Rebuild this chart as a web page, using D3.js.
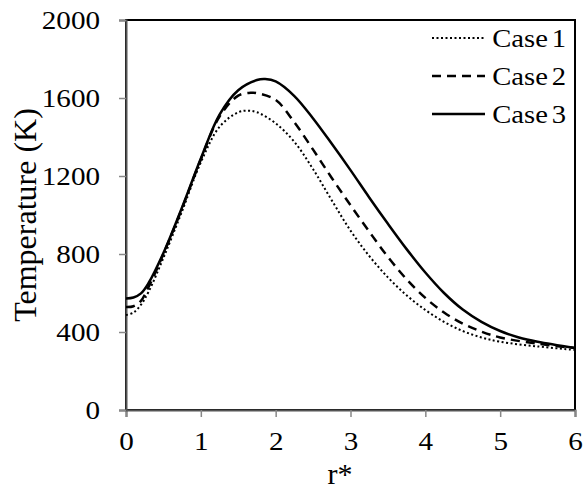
<!DOCTYPE html>
<html>
<head>
<meta charset="utf-8">
<script src="https://cdn.jsdelivr.net/npm/d3@7"></script>
<style>
  body { margin: 0; background: #fff; }
  text { font-family: "Liberation Serif", "Times New Roman", serif; fill: #000; }
</style>
</head>
<body>
<div id="chart"></div>
<script>
// radial position r* and temperature (K) for the three cases
const rCase1 = [0, 0.1, 0.2, 0.3, 0.5, 0.75, 1, 1.25, 1.5, 1.63, 1.75, 2, 2.25, 2.5, 2.75, 3, 3.25, 3.5, 3.75, 4, 4.25, 4.5, 4.75, 5, 5.5, 6];
const tCase1 = [487, 500, 540, 605, 780, 1020, 1270, 1452, 1527, 1535, 1527, 1470, 1375, 1235, 1075, 920, 790, 680, 588, 513, 452, 405, 372, 350, 326, 308];

const rCase2 = [0, 0.1, 0.2, 0.3, 0.5, 0.75, 1, 1.25, 1.5, 1.68, 1.75, 2, 2.25, 2.5, 2.75, 3, 3.25, 3.5, 3.75, 4, 4.25, 4.5, 4.75, 5, 5.5, 6];
const tCase2 = [528, 532, 560, 630, 800, 1035, 1285, 1505, 1612, 1627, 1625, 1590, 1475, 1335, 1190, 1050, 915, 785, 670, 575, 500, 443, 402, 372, 340, 318];

const rCase3 = [0, 0.1, 0.2, 0.3, 0.5, 0.75, 1, 1.25, 1.5, 1.75, 1.86, 2, 2.25, 2.5, 2.75, 3, 3.25, 3.5, 3.75, 4, 4.25, 4.5, 4.75, 5, 5.25, 5.5, 6];
const tCase3 = [572, 577, 598, 650, 805, 1040, 1290, 1515, 1640, 1692, 1697, 1685, 1610, 1495, 1365, 1230, 1090, 955, 825, 705, 600, 515, 452, 405, 372, 350, 318];

const xTicks = [0, 1, 2, 3, 4, 5, 6];
const yTicks = [0, 400, 800, 1200, 1600, 2000];
const caseNames = ["Case 1", "Case 2", "Case 3"];

const width = 588, height = 489;
const margin = {left: 126, right: 13, top: 20, bottom: 79};

const svg = d3.select("#chart").append("svg")
    .attr("width", width)
    .attr("height", height);

const x = d3.scaleLinear().domain([0, 6]).range([margin.left, width - margin.right]);
const y = d3.scaleLinear().domain([0, 2000]).range([height - margin.bottom, margin.top]);

// widen serif text a little, the original glyphs are broader
function widen(sel, k) {
    sel.each(function() {
        const w = this.getComputedTextLength();
        d3.select(this)
            .attr("textLength", w * k)
            .attr("lengthAdjust", "spacingAndGlyphs");
    });
}

// plot frame
svg.append("rect")
    .attr("x", x(0)).attr("y", y(2000))
    .attr("width", x(6) - x(0)).attr("height", y(0) - y(2000))
    .attr("fill", "none").attr("stroke", "#000").attr("stroke-width", 2);

// axes
const xAxis = svg.append("g")
    .attr("transform", `translate(0,${y(0)})`)
    .call(d3.axisBottom(x).tickValues(xTicks).tickSize(7).tickPadding(15).tickFormat(d3.format("d")));
const yAxis = svg.append("g")
    .attr("transform", `translate(${x(0)},0)`)
    .call(d3.axisLeft(y).tickValues(yTicks).tickSize(7).tickPadding(19).tickFormat(d3.format("d")));

[xAxis, yAxis].forEach(g => {
    g.select(".domain").attr("stroke", "#555").attr("stroke-width", 2);
    g.selectAll(".tick line").attr("stroke", "#888").attr("stroke-width", 1.5);
    g.selectAll(".tick text")
        .attr("font-size", 26)
        .attr("font-family", "Liberation Serif")
        .attr("fill", "#000")
        .call(widen, 1.12);
});

// curves
const series = [
    {r: rCase1, t: tCase1, dash: "2,2.5", w: 2},
    {r: rCase2, t: tCase2, dash: "9,6", w: 2.5},
    {r: rCase3, t: tCase3, dash: null, w: 2.5}
];

const line = d3.line()
    .x(d => x(d[0]))
    .y(d => y(d[1]))
    .curve(d3.curveCatmullRom.alpha(0.5));

series.forEach(s => {
    svg.append("path")
        .datum(d3.zip(s.r, s.t))
        .attr("d", line)
        .attr("fill", "none")
        .attr("stroke", "#000")
        .attr("stroke-width", s.w)
        .attr("stroke-dasharray", s.dash);
});

// legend
const legend = svg.append("g");
series.forEach((s, i) => {
    const cy = 38 + i * 38;
    legend.append("line")
        .attr("x1", 432).attr("x2", 485)
        .attr("y1", cy).attr("y2", cy)
        .attr("stroke", "#000")
        .attr("stroke-width", s.w)
        .attr("stroke-dasharray", s.dash);
    legend.append("text")
        .attr("x", 566).attr("y", cy + 9)
        .attr("text-anchor", "end")
        .attr("font-size", 26)
        .attr("word-spacing", -3)
        .text(caseNames[i])
        .call(widen, 1.1);
});

// axis titles
svg.append("text")
    .attr("transform", `translate(36,${(y(0) + y(2000)) / 2}) rotate(-90)`)
    .attr("text-anchor", "middle")
    .attr("font-size", 32)
    .text("Temperature (K)");

svg.append("text")
    .attr("x", 340).attr("y", 484)
    .attr("text-anchor", "middle")
    .attr("font-size", 30)
    .text("r*");
</script>
</body>
</html>
